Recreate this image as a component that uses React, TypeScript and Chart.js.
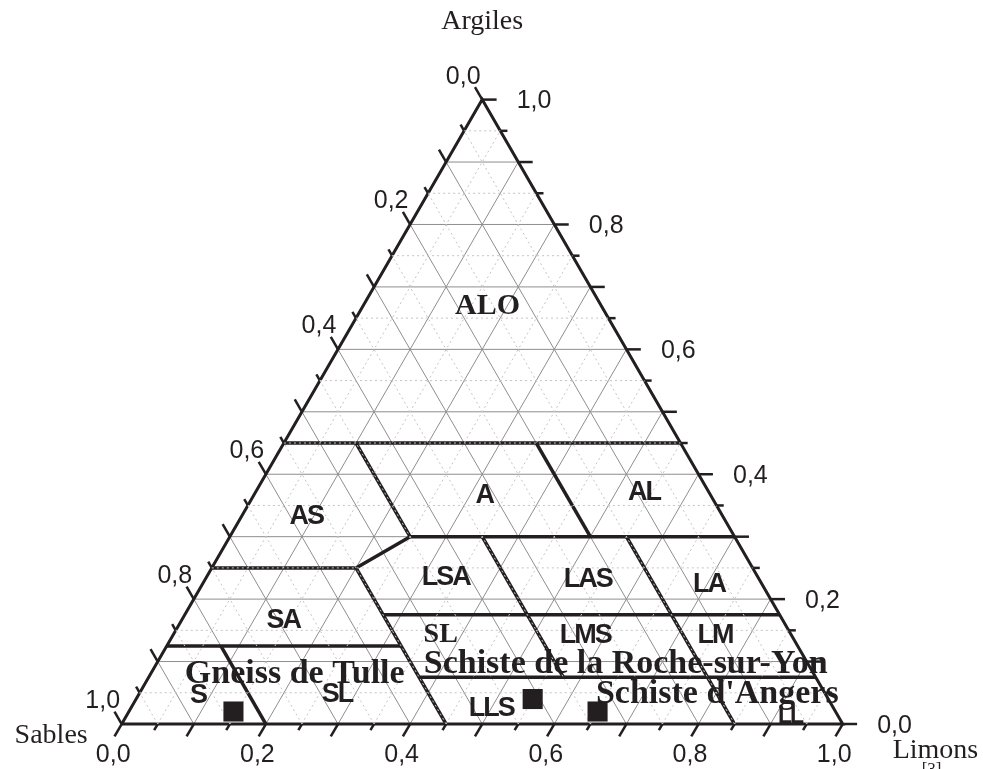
import React, { useEffect, useRef } from "react";
import { Chart, registerables } from "chart.js";

Chart.register(...registerables);

// ---------- data ----------
const majorSteps = [0, 0.1, 0.2, 0.3, 0.4, 0.5, 0.6, 0.7, 0.8, 0.9, 1.0];
const minorSteps = [0.05, 0.15, 0.25, 0.35, 0.45, 0.55, 0.65, 0.75, 0.85, 0.95];
const tickValues = [0, 0.2, 0.4, 0.6, 0.8, 1.0];
const tickLabels = ["0,0", "0,2", "0,4", "0,6", "0,8", "1,0"];
const axisClay = "Argiles";
const axisSand = "Sables";
const axisSilt = "Limons";
const sourceNote = "[3]";

// polylines given as [sand, clay] fractions
const triangleEdge: number[][] = [[1, 0], [0, 1], [0, 0], [1, 0]];
const boundaries: number[][][] = [
  [[0.55, 0.45], [0, 0.45]],
  [[0.45, 0.3], [0, 0.3]],
  [[0.75, 0.25], [0.55, 0.25], [0.45, 0.3]],
  [[0.45, 0.45], [0.45, 0.3]],
  [[0.55, 0.25], [0.55, 0]],
  [[0.2, 0.45], [0.2, 0.3]],
  [[0.35, 0.3], [0.35, 0.075]],
  [[0.15, 0.3], [0.15, 0]],
  [[0.55, 0.175], [0, 0.175]],
  [[0.55, 0.075], [0, 0.075]],
  [[0.875, 0.125], [0.55, 0.125]],
  [[0.8, 0.125], [0.8, 0]],
];

const regionNames = ["ALO", "A", "AL", "AS", "LSA", "LAS", "LA", "SA", "SL", "LMS", "LM", "S", "SL", "LLS", "LL"];
const regionSand = [0.164, 0.32, 0.096, 0.584, 0.439, 0.244, 0.08, 0.699, 0.492, 0.292, 0.112, 0.877, 0.684, 0.481, 0.072];
const regionClay = [0.657, 0.354, 0.359, 0.32, 0.223, 0.219, 0.211, 0.154, 0.131, 0.13, 0.13, 0.034, 0.035, 0.013, 0.002];

const sampleNames = ["Gneiss de Tulle", "Schiste de la Roche-sur-Yon", "Schiste d'Angers"];
const sampleSand = [0.835, 0.41, 0.33];
const sampleSilt = [0.145, 0.55, 0.65];
const sampleClay = [0.02, 0.04, 0.02];
const sampleLabelSand = [0.727, 0.26, 0.157];
const sampleLabelClay = [0.066, 0.082, 0.034];

// ---------- layout / style ----------
const CW = 983;
const CH = 769;
const OX = 121.7;
const OY = 724;
const SIDE = 721;
const TH = 624.4;
const INK = "#231f20";
const SANS = '"Liberation Sans", Arial, sans-serif';
const SERIF = '"Liberation Serif", "Times New Roman", serif';
const TICK_LONG = 0.02;
const TICK_SHORT = 0.01;

const regionFonts = regionNames.map((_, i) => {
  if (i === 0) return `bold 30px ${SERIF}`;
  if (i === 8) return `bold 28px ${SERIF}`;
  if (i === 14) return `bold 23px ${SANS}`;
  return `bold 27px ${SANS}`;
});

const pt = (sand: number, clay: number) => ({ x: 1 - sand - clay / 2, y: clay });

function lineDs(points: number[][], color: string, width: number, order: number, dash: number[] = []) {
  return {
    type: "scatter" as const,
    data: points.map((p) => pt(p[0], p[1])),
    showLine: true,
    borderColor: color,
    borderWidth: width,
    borderDash: dash,
    pointRadius: 0,
    pointHoverRadius: 0,
    fill: false,
    tension: 0,
    order,
    borderCapStyle: "butt" as const,
    borderJoinStyle: "miter" as const,
  };
}

function buildDatasets() {
  const ds: any[] = [];
  const gridFor = (v: number, color: string, width: number, order: number, dash: number[]) => {
    ds.push(lineDs([[1 - v, v], [0, v]], color, width, order, dash)); // clay
    ds.push(lineDs([[v, 0], [v, 1 - v]], color, width, order, dash)); // sand
    ds.push(lineDs([[1 - v, 0], [0, 1 - v]], color, width, order, dash)); // silt
  };
  majorSteps.filter((v) => v > 0 && v < 1).forEach((v) => gridFor(v, "#8e8e8e", 1, 4, []));
  minorSteps.forEach((v) => gridFor(v, "#c4c4c4", 1, 1, [2, 3]));

  boundaries.forEach((b) => ds.push(lineDs(b, INK, 3.5, 2)));
  ds.push(lineDs(triangleEdge, INK, 3, 2));

  const tickFor = (v: number, d: number) => {
    ds.push(lineDs([[1 - v, 0], [1 - v + d, -d]], INK, 2.5, 2)); // bottom (silt)
    ds.push(lineDs([[v, 1 - v], [v, 1 - v + d]], INK, 2.5, 2)); // left (sand)
    ds.push(lineDs([[0, v], [-d, v]], INK, 2.5, 2)); // right (clay)
  };
  majorSteps.forEach((v) => tickFor(v, TICK_LONG));
  minorSteps.forEach((v) => tickFor(v, TICK_SHORT));

  ds.push({
    type: "scatter" as const,
    data: sampleSand.map((s, i) => pt(s, sampleClay[i])),
    pointStyle: "rect",
    pointRadius: 14.2,
    pointHoverRadius: 14.2,
    backgroundColor: INK,
    borderWidth: 0,
    showLine: false,
    order: 0,
  });
  return ds;
}

const textPlugin = {
  id: "ternaryText",
  afterDraw(chart: any) {
    const ctx: CanvasRenderingContext2D = chart.ctx;
    const xs = chart.scales.x;
    const ys = chart.scales.y;
    const px = (sand: number, clay: number) => [
      xs.getPixelForValue(1 - sand - clay / 2),
      ys.getPixelForValue(clay),
    ];
    ctx.save();
    ctx.fillStyle = INK;
    ctx.textBaseline = "alphabetic";

    // tick labels
    ctx.font = `25px ${SANS}`;
    tickValues.forEach((v, i) => {
      const lab = tickLabels[i];
      let [x, y] = px(1 - v, 0);
      ctx.textAlign = "center";
      ctx.fillText(lab, x - 8.5, y + 38);
      [x, y] = px(v, 1 - v);
      ctx.fillText(lab, x - 19, y - 16);
      [x, y] = px(0, v);
      ctx.textAlign = "left";
      ctx.fillText(lab, x + 34.5, y + 8.5);
    });

    // axis titles
    ctx.font = `28px ${SERIF}`;
    let [ax, ay] = px(0, 1);
    ctx.textAlign = "center";
    ctx.fillText(axisClay, ax, ay - 71);
    [ax, ay] = px(1, 0);
    ctx.textAlign = "right";
    ctx.fillText(axisSand, ax - 34, ay + 19);
    [ax, ay] = px(0, 0);
    ctx.textAlign = "left";
    ctx.fillText(axisSilt, ax + 50, ay + 34);
    ctx.font = `17px ${SERIF}`;
    ctx.fillText(sourceNote, ax + 79, ay + 50);

    // region labels
    ctx.textAlign = "center";
    regionNames.forEach((name, i) => {
      const [x, y] = px(regionSand[i], regionClay[i]);
      ctx.font = regionFonts[i];
      (ctx as any).letterSpacing = regionFonts[i].includes(SANS) ? "-2px" : "0px";
      ctx.fillText(name, x, y);
    });
    (ctx as any).letterSpacing = "0px";

    // sample names
    ctx.font = `bold 34px ${SERIF}`;
    ctx.textAlign = "center";
    sampleNames.forEach((name, i) => {
      const [x, y] = px(sampleLabelSand[i], sampleLabelClay[i]);
      ctx.fillText(name, x, y);
    });
    ctx.restore();
  },
};

export default function App() {
  const ref = useRef<HTMLCanvasElement>(null);
  useEffect(() => {
    if (!ref.current) return;
    const chart = new Chart(ref.current, {
      type: "scatter",
      data: { datasets: buildDatasets() },
      options: {
        responsive: false,
        animation: false,
        events: [],
        layout: { padding: 0, autoPadding: false },
        plugins: { legend: { display: false }, tooltip: { enabled: false } },
        scales: {
          x: { type: "linear", display: false, min: -OX / SIDE, max: (CW - OX) / SIDE },
          y: { type: "linear", display: false, min: -(CH - OY) / TH, max: OY / TH },
        },
      },
      plugins: [textPlugin],
    } as any);
    return () => chart.destroy();
  }, []);
  return (
    <div style={{ position: "absolute", left: 0, top: 0, width: CW, height: CH, background: "#fff" }}>
      <canvas ref={ref} width={CW} height={CH} style={{ display: "block", width: CW, height: CH }} />
    </div>
  );
}
